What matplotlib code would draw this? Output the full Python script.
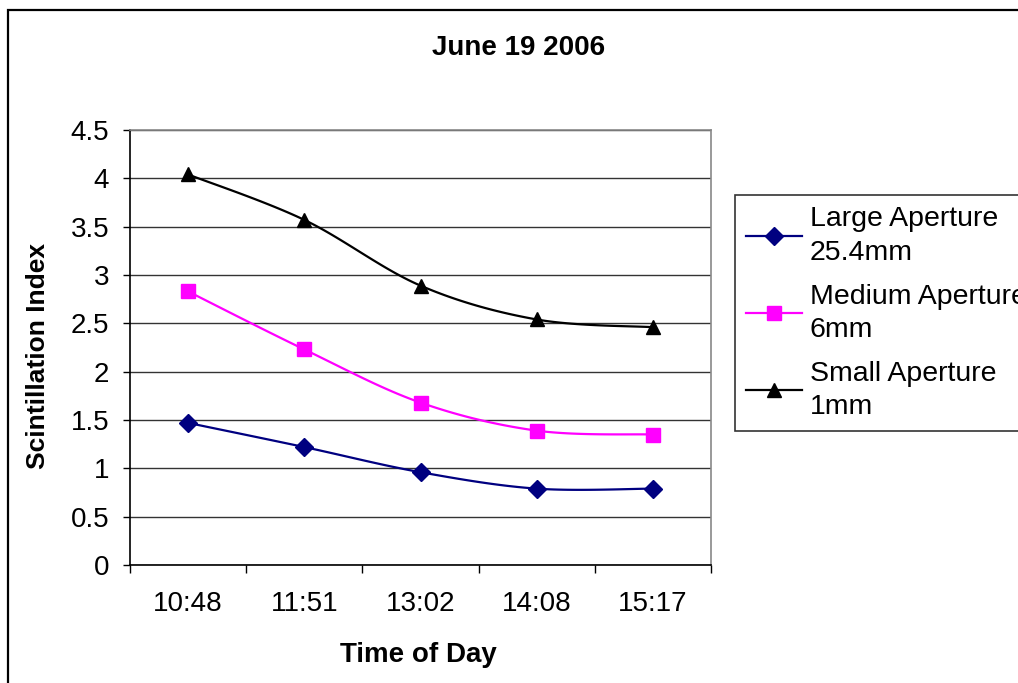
import numpy as np
import matplotlib
matplotlib.use("Agg")
import matplotlib.pyplot as plt
from matplotlib.patches import Rectangle
from matplotlib.lines import Line2D

plt.rcParams['font.family'] = ['Liberation Sans', 'DejaVu Sans']

times = ["10:48", "11:51", "13:02", "14:08", "15:17"]
large = [1.47, 1.22, 0.96, 0.79, 0.79]
medium = [2.83, 2.23, 1.68, 1.39, 1.35]
small = [4.04, 3.57, 2.89, 2.54, 2.46]
labels = ["Large Aperture\n25.4mm", "Medium Aperture\n6mm", "Small Aperture\n1mm"]
colors = ["#000080", "#FF00FF", "#000000"]
markers = ["D", "s", "^"]
msizes = [9, 10, 10]


def smooth(xs, ys, n=30):
    P = np.column_stack([xs, ys]).astype(float)
    out = [P[0]]
    m = len(P)
    for i in range(m - 1):
        p0 = P[i - 1] if i > 0 else P[i]
        p1, p2 = P[i], P[i + 1]
        p3 = P[i + 2] if i + 2 < m else P[i + 1]
        c1 = p1 + (p2 - p0) / 6.0
        c2 = p2 - (p3 - p1) / 6.0
        t = np.linspace(0, 1, n)[1:, None]
        seg = ((1 - t) ** 3) * p1 + 3 * ((1 - t) ** 2) * t * c1 + 3 * (1 - t) * t ** 2 * c2 + t ** 3 * p2
        out.extend(seg)
    out = np.array(out)
    return out[:, 0], out[:, 1]


W, H = 1018, 683
fig = plt.figure(figsize=(W / 100, H / 100), dpi=100)
ax = fig.add_axes([130 / W, 1 - 565 / H, (711 - 130) / W, (565 - 130) / H])

x = np.arange(len(times))
handles = []
for ys, c, mk, ms, lab in zip([large, medium, small], colors, markers, msizes, labels):
    sx, sy = smooth(x, ys)
    ax.plot(sx, sy, color=c, lw=1.6, zorder=3)
    ax.plot(x, ys, linestyle='none', marker=mk, color=c, markersize=ms, zorder=4)
    handles.append(Line2D([], [], color=c, lw=1.6, marker=mk, markersize=ms))

ax.set_xlim(-0.5, len(times) - 0.5)
ax.set_ylim(0, 4.5)
ax.set_yticks(np.arange(0, 4.51, 0.5))
ax.set_yticklabels(["0", "0.5", "1", "1.5", "2", "2.5", "3", "3.5", "4", "4.5"])
ax.yaxis.grid(True, color='#333333', lw=1)
ax.set_axisbelow(True)
ax.set_xticks(x)
ax.set_xticklabels(times)
ax.set_xticks(np.arange(-0.5, len(times), 1.0), minor=True)
ax.tick_params(axis='x', which='major', length=0, pad=19, labelsize=20)
ax.tick_params(axis='x', which='minor', length=6, width=1, direction='out')
ax.tick_params(axis='y', length=5, width=1, direction='out', pad=10, labelsize=20)

for s in ['left', 'bottom']:
    ax.spines[s].set_color('black')
    ax.spines[s].set_linewidth(1.2)
for s in ['top', 'right']:
    ax.spines[s].set_color('#888888')
    ax.spines[s].set_linewidth(1.2)

fig.text(519 / W, 1 - 48 / H, "June 19 2006", ha='center', va='center', fontsize=20, fontweight='bold')
fig.text(418 / W, 1 - 655 / H, "Time of Day", ha='center', va='center', fontsize=20, fontweight='bold')
fig.text(38 / W, 1 - 356 / H, "Scintillation Index", ha='center', va='center', rotation=90,
         fontsize=19, fontweight='bold')

leg = fig.legend(handles, labels, loc='upper left', bbox_to_anchor=(735 / W, 1 - 195 / H),
                 fontsize=20.5, frameon=True, fancybox=False, handlelength=1.95, handletextpad=0.28,
                 labelspacing=0.63, borderpad=0.4, borderaxespad=0)
for t in leg.get_texts():
    t.set_linespacing(1.36)
leg.get_frame().set_edgecolor('black')
leg.get_frame().set_linewidth(1.2)

fig.patches.append(Rectangle((7.5 / W, -0.1), 1.2, 1 - 10.5 / H + 0.1, transform=fig.transFigure,
                             fill=False, edgecolor='black', lw=1.6, zorder=0))

fig.savefig("out.png", dpi=100)
